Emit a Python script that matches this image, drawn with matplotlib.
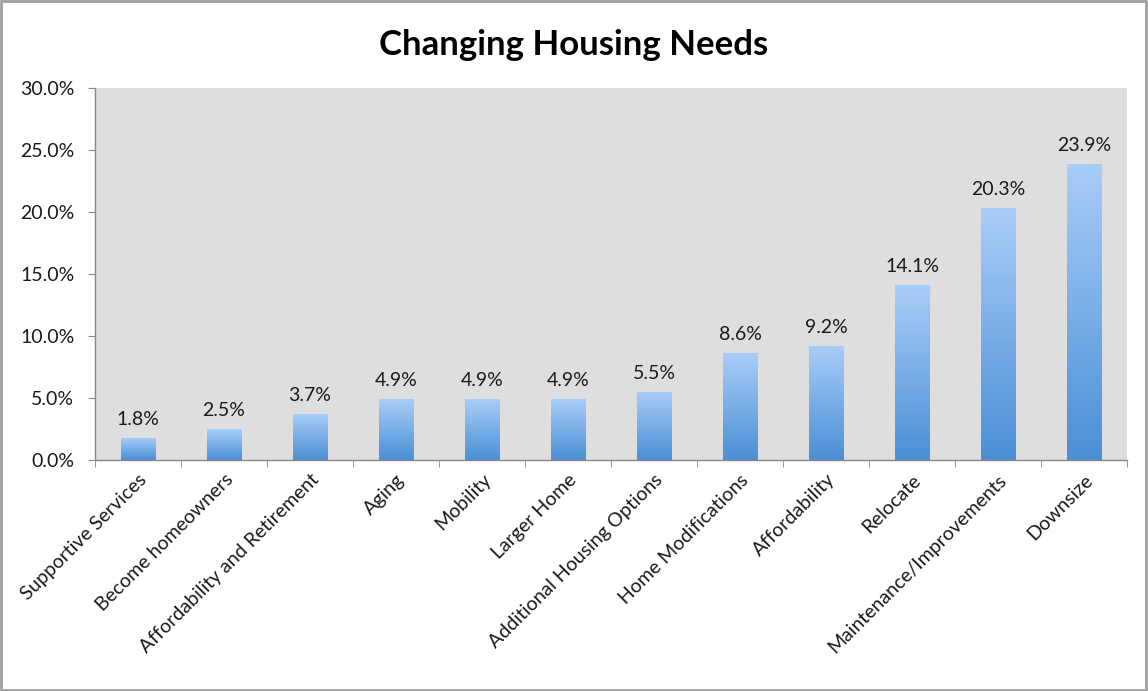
import numpy as np
import matplotlib
matplotlib.use("Agg")
import matplotlib.pyplot as plt
from matplotlib.colors import LinearSegmentedColormap
from matplotlib.patches import Rectangle

plt.rcParams['font.family'] = ['Lato', 'DejaVu Sans']

categories = ["Supportive Services", "Become homeowners", "Affordability and Retirement",
              "Aging", "Mobility", "Larger Home", "Additional Housing Options",
              "Home Modifications", "Affordability", "Relocate",
              "Maintenance/Improvements", "Downsize"]
values = [1.8, 2.5, 3.7, 4.9, 4.9, 4.9, 5.5, 8.6, 9.2, 14.1, 20.3, 23.9]
y_ticks = [0, 5, 10, 15, 20, 25, 30]

fig = plt.figure(figsize=(11.48, 6.91), dpi=100)
ax = fig.add_axes([0.0828, 0.3343, 0.8989, 0.5383])
ax.set_facecolor("#dedede")

x = np.arange(len(values))
bars = ax.bar(x, values, width=0.4, color="none", zorder=2)

# vertical gradient fill for each bar
cmap = LinearSegmentedColormap.from_list("bluegrad", ["#4a8fd6", "#a9cdf8"])
grad = np.linspace(0, 1, 256).reshape(-1, 1)
for b in bars:
    x0, y0 = b.get_x(), b.get_y()
    w, h = b.get_width(), b.get_height()
    im = ax.imshow(grad, cmap=cmap, origin="lower", aspect="auto",
                   extent=[x0, x0 + w, y0, y0 + h], zorder=2)
    im.set_clip_path(b)
    ax.text(x0 + w / 2, h + 0.8, f"{h:.1f}%", ha="center", va="bottom",
            fontsize=14, color="#1a1a1a")

ax.set_xlim(-0.5, len(values) - 0.5)
ax.set_ylim(0, 30)
ax.set_yticks(y_ticks)
ax.set_yticklabels([f"{v:.1f}%" for v in y_ticks], fontsize=14, color="#1a1a1a")
ax.set_xticks(x)
ax.set_xticklabels(categories, rotation=45, ha="right", rotation_mode="anchor",
                   fontsize=14, color="#1a1a1a")
ax.set_xticks(np.arange(-0.5, len(values)), minor=True)
ax.tick_params(axis="x", which="major", length=0, pad=8)
ax.tick_params(axis="x", which="minor", length=5, color="#888888")
ax.tick_params(axis="y", length=5, color="#888888", pad=10)

for s in ["top", "right"]:
    ax.spines[s].set_visible(False)
for s in ["left", "bottom"]:
    ax.spines[s].set_color("#888888")
    ax.spines[s].set_linewidth(1)

fig.text(0.5, 0.935, "Changing Housing Needs", ha="center", va="center",
         fontsize=25, fontweight="bold", color="#000000")

fig.patches.append(Rectangle((0.001, 0.002), 0.997, 0.996, transform=fig.transFigure,
                             fill=False, edgecolor="#a0a0a0", linewidth=2))

fig.savefig("out.png", dpi=100)
